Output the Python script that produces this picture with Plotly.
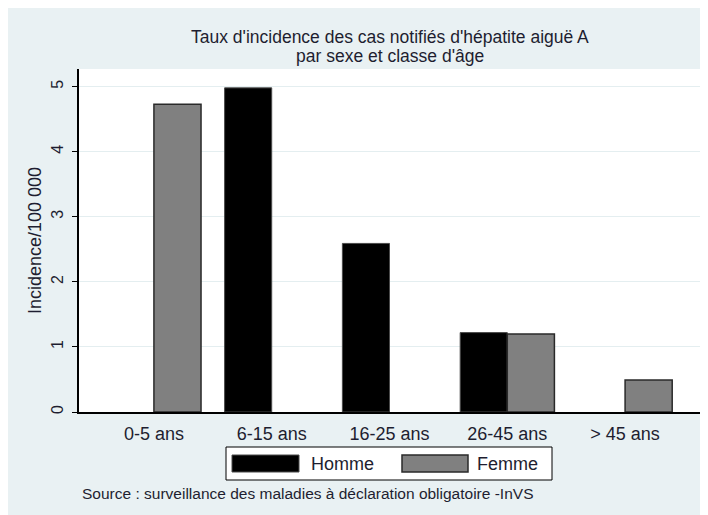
import plotly.graph_objects as go

# ---- data ----
categories = ["0-5 ans", "6-15 ans", "16-25 ans", "26-45 ans", "> 45 ans"]
homme = [None, 4.98, 2.59, 1.22, None]
femme = [4.73, None, None, 1.20, 0.49]
series_names = ["Homme", "Femme"]
title_lines = ["Taux d'incidence des cas notifiés d'hépatite aiguë A", "par sexe et classe d'âge"]
y_title = "Incidence/100 000"
source_text = "Source : surveillance des maladies à déclaration obligatoire -InVS"
y_ticks = [0, 1, 2, 3, 4, 5]

# ---- style ----
OFF = 8  # page body margin
W, H = 700, 507
ML, MR, MT, MB = 71, 8, 61, 103
PW, PH = W - ML - MR, H - MT - MB
BG = "#E9F1F3"
HOMME_COL = "#000000"
FEMME_COL = "#808080"
TXT = "#1E1E30"
FONT = "Liberation Sans, Arial, sans-serif"


def px(x):  # screenshot x -> paper
    return (x - OFF - ML) / PW


def py(y):  # screenshot y -> paper
    return (H - MB - (y - OFF)) / PH


fig = go.Figure()
fig.add_trace(go.Bar(x=categories, y=homme, name=series_names[0],
                     marker=dict(color=HOMME_COL, line=dict(color="#4a4a4a", width=1)),
                     showlegend=False))
fig.add_trace(go.Bar(x=categories, y=femme, name=series_names[1],
                     marker=dict(color=FEMME_COL, line=dict(color="#2a2a2a", width=1.5)),
                     showlegend=False))

shapes = [
    # legend box
    dict(type="rect", xref="paper", yref="paper", x0=px(226), x1=px(552), y0=py(447), y1=py(480),
         fillcolor="white", line=dict(color="black", width=1)),
    dict(type="rect", xref="paper", yref="paper", x0=px(232), x1=px(299), y0=py(455), y1=py(472),
         fillcolor=HOMME_COL, line=dict(color="#4a4a4a", width=1)),
    dict(type="rect", xref="paper", yref="paper", x0=px(402), x1=px(468), y0=py(455), y1=py(472),
         fillcolor=FEMME_COL, line=dict(color="#2a2a2a", width=1.5)),
]

annotations = [
    dict(text=title_lines[0], xref="paper", yref="paper", x=px(390), y=py(37),
         xanchor="center", yanchor="middle", showarrow=False,
         font=dict(family=FONT, size=17.5, color=TXT)),
    dict(text=title_lines[1], xref="paper", yref="paper", x=px(390), y=py(56),
         xanchor="center", yanchor="middle", showarrow=False,
         font=dict(family=FONT, size=17.5, color=TXT)),
    dict(text=series_names[0], xref="paper", yref="paper", x=px(309), y=py(464),
         xanchor="left", yanchor="middle", showarrow=False,
         font=dict(family=FONT, size=18, color=TXT)),
    dict(text=series_names[1], xref="paper", yref="paper", x=px(475), y=py(464),
         xanchor="left", yanchor="middle", showarrow=False,
         font=dict(family=FONT, size=18, color=TXT)),
    dict(text=source_text, xref="paper", yref="paper", x=px(80), y=py(493),
         xanchor="left", yanchor="middle", showarrow=False,
         font=dict(family=FONT, size=15.5, color=TXT)),
]

fig.update_layout(
    width=W, height=H, autosize=False,
    margin=dict(l=ML, r=MR, t=MT, b=MB, pad=0),
    paper_bgcolor=BG, plot_bgcolor="white",
    barmode="group", bargap=0.2, bargroupgap=0,
    font=dict(family=FONT, size=16, color=TXT),
    shapes=shapes, annotations=annotations, showlegend=False,
    xaxis=dict(range=[-0.636, 4.636], showline=True, linecolor="black", linewidth=1.5,
               ticks="outside", ticklen=5, tickcolor="rgba(0,0,0,0)",
               tickfont=dict(size=18, color=TXT), showgrid=False, fixedrange=True),
    yaxis=dict(range=[0, 5.27], tickvals=y_ticks, showline=True, linecolor="black", linewidth=1.5,
               ticks="outside", ticklen=5, tickcolor="black", tickangle=-90,
               ticklabelstandoff=3,
               tickfont=dict(size=16, color=TXT), showgrid=True, gridcolor="#E4EEF0",
               gridwidth=1, zeroline=False,
               title=dict(text=y_title, font=dict(size=18, color=TXT), standoff=3)),
)

fig.write_html("out.html")
